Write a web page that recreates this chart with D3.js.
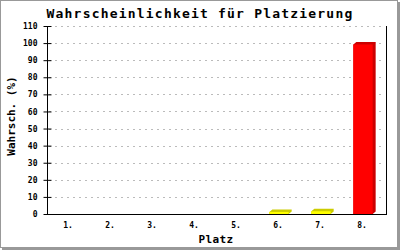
<!DOCTYPE html>
<html>
<head>
<meta charset="utf-8">
<script src="https://cdn.jsdelivr.net/npm/d3@7"></script>
<style>
  html, body { margin: 0; padding: 0; background: #fff; }
  svg { display: block; }
  text { font-family: "DejaVu Sans Mono", monospace; fill: #000; }
</style>
</head>
<body>
<svg id="chart"></svg>
<script>
// data
var places = ["1.", "2.", "3.", "4.", "5.", "6.", "7.", "8."];
var probs  = [0, 0, 0, 0, 0, 1.2, 1.6, 99.2];
var barColors = ["#ffff00", "#ffff00", "#ffff00", "#ffff00", "#ffff00", "#ffff00", "#ffff00", "#ff0000"];
var shadeColors = ["#cccc00", "#cccc00", "#cccc00", "#cccc00", "#cccc00", "#cccc00", "#cccc00", "#cc0000"];
var yTicks = [0, 10, 20, 30, 40, 50, 60, 70, 80, 90, 100, 110];

var title = "Wahrscheinlichkeit für Platzierung",
    xlabel = "Platz",
    ylabel = "Wahrsch. (%)";

var width = 400, height = 250;
var plot = {left: 47, right: 386, top: 26, bottom: 214};

var svg = d3.select("#chart")
    .attr("width", width)
    .attr("height", height);

// frame with a small shadow on right and bottom
svg.append("rect")
    .attr("x", 0).attr("y", 0)
    .attr("width", width).attr("height", height)
    .attr("fill", "#fff");
svg.append("rect")
    .attr("x", 0.5).attr("y", 0.5)
    .attr("width", 397).attr("height", 247)
    .attr("fill", "none")
    .attr("stroke", "#999");
svg.append("rect").attr("x", 398).attr("y", 2).attr("width", 2).attr("height", 248).attr("fill", "#999");
svg.append("rect").attr("x", 2).attr("y", 248).attr("width", 398).attr("height", 2).attr("fill", "#999");

var x = d3.scaleBand()
    .domain(places)
    .range([48, 384])
    .paddingInner(0.54)
    .paddingOuter(0.27);

var y = d3.scaleLinear()
    .domain([0, 110])
    .range([plot.bottom, plot.top]);

// grid
svg.append("g")
    .selectAll("line")
    .data(yTicks.filter(function(d) { return d > 0; }))
    .enter().append("line")
    .attr("x1", plot.left + 2)
    .attr("x2", plot.right - 3)
    .attr("y1", function(d) { return Math.round(y(d)) + 0.5; })
    .attr("y2", function(d) { return Math.round(y(d)) + 0.5; })
    .attr("stroke", "#bbbbbb")
    .attr("stroke-dasharray", "2,4");

// right border of plot
svg.append("line")
    .attr("x1", plot.right + 0.5).attr("x2", plot.right + 0.5)
    .attr("y1", plot.top).attr("y2", plot.bottom + 1)
    .attr("stroke", "#000");

// bars with a 3d shade
var dx = 3, dy = 2.5;
var bars = svg.append("g")
    .selectAll("g")
    .data(probs)
    .enter().append("g")
    .filter(function(d) { return d > 0; });

bars.append("path")
    .attr("fill", function(d) { return shadeColors[probs.indexOf(d)]; })
    .attr("d", function(d) {
        var i = probs.indexOf(d);
        var x0 = x(places[i]), x1 = x0 + x.bandwidth(), yt = y(d), yb = y(0);
        return "M" + x0 + "," + yt + "L" + (x0 + dx) + "," + (yt - dy) +
               "L" + (x1 + dx) + "," + (yt - dy) + "L" + (x1 + dx) + "," + (yb - dy) +
               "L" + x1 + "," + yb + "L" + x0 + "," + yb + "Z";
    });

bars.append("rect")
    .attr("x", function(d) { return x(places[probs.indexOf(d)]); })
    .attr("y", function(d) { return y(d); })
    .attr("width", x.bandwidth())
    .attr("height", function(d) { return y(0) - y(d); })
    .attr("fill", function(d) { return barColors[probs.indexOf(d)]; });

// y axis
var yAxis = svg.append("g")
    .attr("transform", "translate(" + (plot.left + 0.5) + ",0)")
    .call(d3.axisLeft(y).tickValues(yTicks).tickSize(4).tickPadding(6));
yAxis.select(".domain").remove();
yAxis.append("line")
    .attr("y1", plot.top).attr("y2", plot.bottom + 1)
    .attr("stroke", "#000");
yAxis.selectAll(".tick line").attr("x2", 4).attr("x1", -4);
yAxis.selectAll(".tick text")
    .attr("x", -10)
    .style("font-family", "'DejaVu Sans Mono', monospace")
    .style("font-size", "8px")
    .style("font-weight", "bold");

// x axis
var xAxis = svg.append("g")
    .attr("transform", "translate(0," + (plot.bottom + 0.5) + ")")
    .call(d3.axisBottom(x).tickSize(0).tickPadding(8));
xAxis.select(".domain").remove();
xAxis.append("line")
    .attr("x1", plot.left).attr("x2", plot.right + 1)
    .attr("stroke", "#000");
xAxis.selectAll(".tick text")
    .attr("dx", "-1")
    .style("font-family", "'DejaVu Sans Mono', monospace")
    .style("font-size", "8px")
    .style("font-weight", "bold");

// title and axis labels
svg.append("text")
    .attr("x", 200)
    .attr("y", 18)
    .style("text-anchor", "middle")
    .style("font-size", "13px")
    .style("font-weight", "bold")
    .style("letter-spacing", "1.2px")
    .text(title);

svg.append("text")
    .attr("x", 216)
    .attr("y", 243)
    .style("text-anchor", "middle")
    .style("font-size", "11px")
    .style("font-weight", "bold")
    .style("letter-spacing", "0.4px")
    .text(xlabel);

svg.append("text")
    .attr("transform", "translate(15,116) rotate(-90)")
    .style("text-anchor", "middle")
    .style("font-size", "11px")
    .style("font-weight", "bold")
    .text(ylabel);
</script>
</body>
</html>
